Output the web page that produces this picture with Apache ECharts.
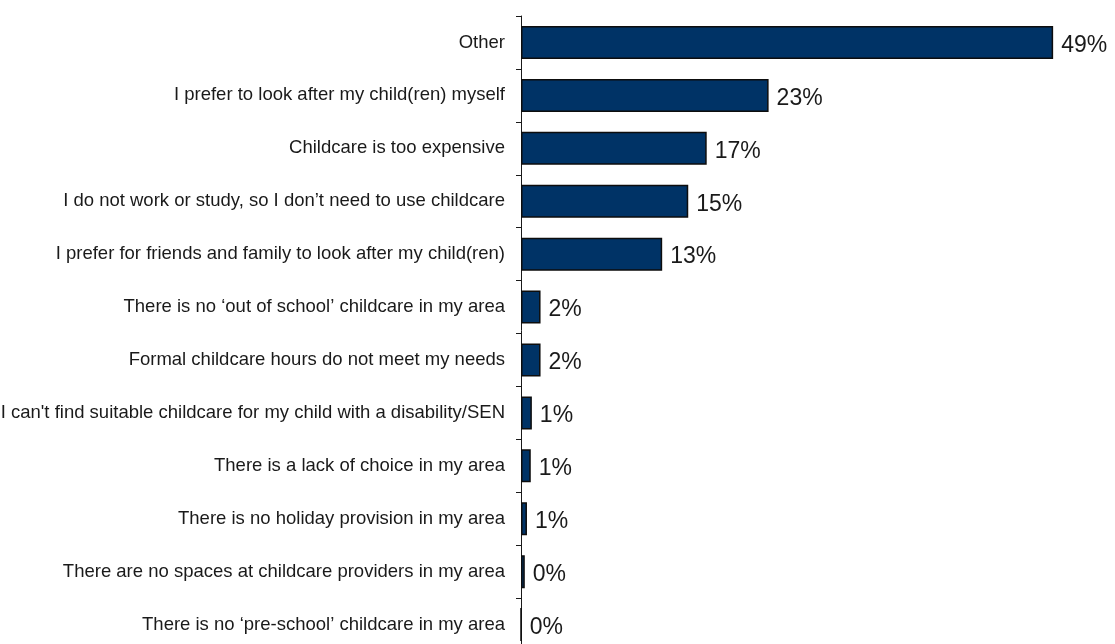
<!DOCTYPE html>
<html>
<head>
<meta charset="utf-8">
<script src="https://cdn.jsdelivr.net/npm/echarts@6/dist/echarts.min.js"></script>
<style>
  html, body { margin: 0; padding: 0; background: #ffffff; }
  #chart { width: 1115px; height: 644px; }
</style>
</head>
<body>
<div id="chart"></div>
<script>
// Reasons given for not using childcare (% of respondents)
const reasons = [
  'Other',
  'I prefer to look after my child(ren) myself',
  'Childcare is too expensive',
  'I do not work or study, so I don\u2019t need to use childcare',
  'I prefer for friends and family to look after my child(ren)',
  'There is no \u2018out of school\u2019 childcare in my area',
  'Formal childcare hours do not meet my needs',
  'I can\'t find suitable childcare for my child with a disability/SEN',
  'There is a lack of choice in my area',
  'There is no holiday provision in my area',
  'There are no spaces at childcare providers in my area',
  'There is no \u2018pre-school\u2019 childcare in my area'
];
const shares = [49, 22.8, 17.1, 15.4, 13.0, 1.8, 1.8, 1.0, 0.9, 0.55, 0.35, 0];

const chart = echarts.init(document.getElementById('chart'), null, { renderer: 'canvas' });

chart.setOption({
  animation: false,
  backgroundColor: '#ffffff',
  grid: {
    left: 521, right: 51, top: 16, bottom: -7,
    containLabel: false,
    outerBoundsMode: 'none'
  },
  xAxis: {
    type: 'value',
    min: 0,
    max: 50,
    show: false
  },
  yAxis: {
    type: 'category',
    inverse: true,
    data: reasons,
    axisLine: { show: true, lineStyle: { color: '#1a1a1a', width: 1 } },
    axisTick: { show: true, length: 5, lineStyle: { color: '#1a1a1a', width: 1 } },
    axisLabel: {
      margin: 16,
      color: '#1a1a1a',
      fontFamily: '"Liberation Sans", Arial, sans-serif',
      fontSize: 18.5
    },
    splitLine: { show: false }
  },
  series: [{
    type: 'bar',
    data: shares,
    barWidth: 33,
    itemStyle: {
      color: '#003366',
      borderColor: '#0d0d0d',
      borderWidth: 1.5
    },
    label: {
      show: true,
      position: 'right',
      distance: 8,
      offset: [0, 3],
      color: '#1a1a1a',
      fontFamily: '"Liberation Sans", Arial, sans-serif',
      fontSize: 23,
      formatter: p => Math.round(p.value) + '%'
    }
  }]
});
</script>
</body>
</html>
